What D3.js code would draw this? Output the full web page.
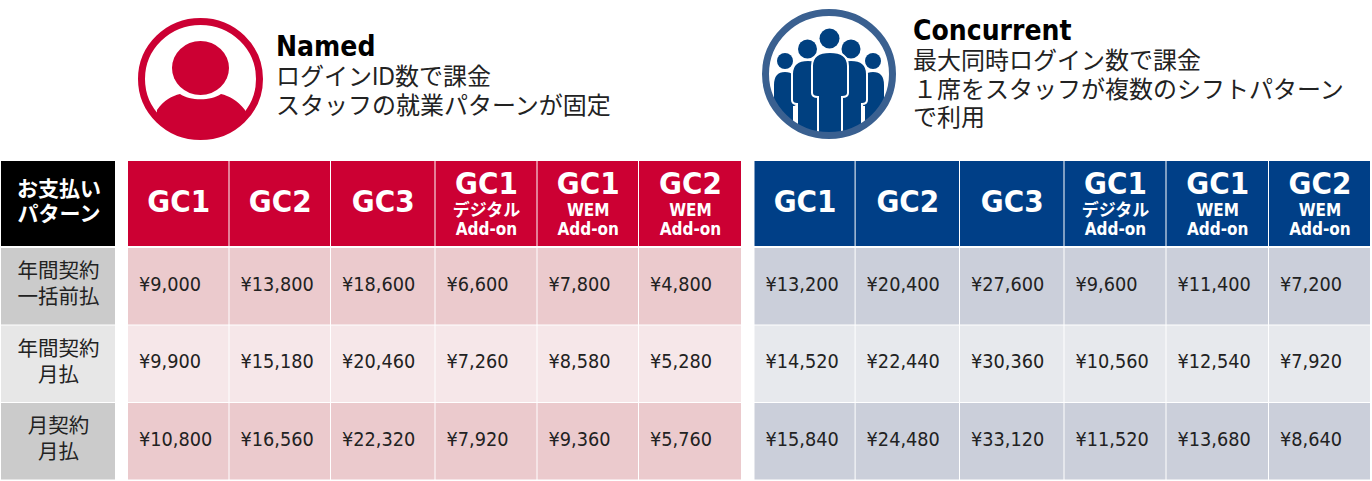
<!DOCTYPE html>
<html>
<head>
<meta charset="utf-8">
<script src="https://cdn.jsdelivr.net/npm/d3@7"></script>
<style>
body { margin: 0; background: #fff; }
text { font-family: "DejaVu Sans Condensed", "DejaVu Sans", "Noto Sans CJK JP", sans-serif; font-stretch: condensed; }
text.jp { font-family: "Noto Sans CJK JP", sans-serif; font-stretch: normal; }
</style>
</head>
<body>
<div id="chart-area"></div>
<script>
var columns = ["c0", "c1", "c2", "c3", "c4", "c5"];
var columnMain = ["GC1", "GC2", "GC3", "GC1", "GC1", "GC2"];
var columnSub = [[], [], [], ["デジタル", "Add-on"], ["WEM", "Add-on"], ["WEM", "Add-on"]];
var rowLabels = [["年間契約", "一括前払"], ["年間契約", "月払"], ["月契約", "月払"]];
var cornerLabel = ["お支払い", "パターン"];
var namedValues = [
    [9000, 13800, 18600, 6600, 7800, 4800],
    [9900, 15180, 20460, 7260, 8580, 5280],
    [10800, 16560, 22320, 7920, 9360, 5760]
];
var concurrentValues = [
    [13200, 20400, 27600, 9600, 11400, 7200],
    [14520, 22440, 30360, 10560, 12540, 7920],
    [15840, 24480, 33120, 11520, 13680, 8640]
];
var namedLines = ["ログインID数で課金", "スタッフの就業パターンが固定"];
var concurrentLines = ["最大同時ログイン数で課金", "１席をスタッフが複数のシフトパターン", "で利用"];

var svg = d3.select("#chart-area").append("svg")
    .attr("width", 1372)
    .attr("height", 481)
    .style("display", "block");

var y = d3.scaleBand().domain([0, 1, 2]).range([248, 480.5]);
var yenFormat = d3.format(",");

// stacked lines as tspans of one text
function addLines(sel, lines, x, dy) {
    sel.selectAll("tspan").data(lines).enter().append("tspan")
        .attr("x", x)
        .attr("dy", (d, i) => i == 0 ? 0 : dy)
        .text((d) => d);
}

// left column
svg.append("rect").attr("x", 1).attr("y", 161).attr("width", 114).attr("height", 85).attr("fill", "#000");
svg.append("text")
    .attr("class", "jp")
    .attr("y", 196)
    .attr("text-anchor", "middle").attr("font-size", 21).attr("font-weight", "bold")
    .attr("fill", "#fff")
    .call(addLines, cornerLabel, 59, 25);

var rowGroups = svg.selectAll(".row").data(rowLabels).enter().append("g").attr("class", "row");
rowGroups.append("rect")
    .attr("x", 1).attr("width", 114)
    .attr("y", (d, i) => y(i)).attr("height", y.bandwidth() - 1)
    .attr("fill", (d, i) => i == 1 ? "#e7e7e7" : "#cbcbcb");
rowGroups.each(function (d, i) {
    d3.select(this).append("text")
        .attr("class", "jp")
        .attr("y", y(i) + 30)
        .attr("text-anchor", "middle").attr("font-size", 20.5)
        .attr("fill", "#222")
        .call(addLines, d, 58.5, 26);
});

function drawTable(edges, head, dark, light, values) {
    var x = d3.scaleOrdinal().domain(columns).range(edges.slice(0, 6));
    var wide = d3.scaleOrdinal().domain(columns).range(d3.pairs(edges).map((p) => p[1] - p[0]));
    var g = svg.append("g");
    var heads = g.selectAll(".head").data(columns).enter().append("g").attr("class", "head");
    heads.append("rect")
        .attr("x", (d) => x(d)).attr("y", 161)
        .attr("width", (d) => wide(d) - 1).attr("height", 85)
        .attr("fill", head);
    heads.append("text")
        .attr("x", (d) => x(d) + wide(d) / 2)
        .attr("y", (d, i) => columnSub[i].length ? 194 : 212)
        .attr("text-anchor", "middle").attr("font-size", 31).attr("font-weight", "bold")
        .attr("fill", "#fff").text((d, i) => columnMain[i]);
    heads.each(function (d, i) {
        if (!columnSub[i].length) return;
        d3.select(this).append("text")
            .attr("y", 216)
            .attr("text-anchor", "middle").attr("font-size", 17).attr("font-weight", "bold")
            .attr("fill", "#fff")
            .call(addLines, columnSub[i], x(d) + wide(d) / 2, 19);
    });
    values.forEach((row, r) => {
        var cells = g.selectAll(".cell-" + r).data(row).enter().append("g").attr("class", "cell-" + r);
        cells.append("rect")
            .attr("x", (d, i) => x(columns[i])).attr("y", y(r))
            .attr("width", (d, i) => wide(columns[i]) - 1).attr("height", y.bandwidth() - 1)
            .attr("fill", r == 1 ? light : dark);
        cells.append("text")
            .attr("x", (d, i) => x(columns[i]) + 11).attr("y", y(r) + 42.5)
            .attr("font-size", 19.7).attr("fill", "#222")
            .text((d) => "¥" + yenFormat(d));
    });
}
drawTable([128, 229.5, 331, 435.5, 537.5, 639, 742], "#cc0033", "#ebcacd", "#f6e7e9", namedValues);
drawTable([754.5, 855.6, 960, 1064.5, 1166.5, 1269, 1371], "#003f87", "#cbcfda", "#e7e9ed", concurrentValues);

// titles
function drawTitle(x, titleY, title, lines, lineY) {
    svg.append("text").attr("x", x).attr("y", titleY)
        .attr("font-size", 28).attr("font-weight", "bold").attr("fill", "#000").text(title);
    svg.append("text")
        .attr("y", lineY)
        .attr("font-size", 24).attr("fill", "#222")
        .call(addLines, lines, x, 28.5);
}
drawTitle(276, 56, "Named", namedLines, 85);
drawTitle(913, 40, "Concurrent", concurrentLines, 69);

// Named icon
var named = svg.append("g");
named.append("clipPath").attr("id", "named-clip").append("ellipse")
    .attr("cx", 200.5).attr("cy", 79).attr("rx", 60).attr("ry", 58.5);
named.append("ellipse").attr("cx", 200.5).attr("cy", 79).attr("rx", 59).attr("ry", 57.5)
    .attr("fill", "#fff").attr("stroke", "#cc0033").attr("stroke-width", 7);
named.append("ellipse").attr("cx", 200.5).attr("cy", 68).attr("rx", 28.5).attr("ry", 27).attr("fill", "#cc0033");
named.append("path")
    .attr("clip-path", "url(#named-clip)")
    .attr("d", "M157,110 C164,100 172,96 180,94 C190,101 211,101 221,94 C229,96 237,100 245,110 L245,140 L157,140 Z")
    .attr("fill", "#cc0033");

// Concurrent icon
var crowd = svg.append("g");
crowd.append("clipPath").attr("id", "crowd-clip").append("ellipse")
    .attr("cx", 829).attr("cy", 74).attr("rx", 62).attr("ry", 60);
crowd.append("ellipse").attr("cx", 829).attr("cy", 74).attr("rx", 63.5).attr("ry", 61.5)
    .attr("fill", "#fff");
var blue = "#004080";
// one standing figure: rounded shoulders, arms down to armY, then narrower legs
var person = (cx, top, w, legW, armY, bottom) => {
    return "M" + (cx - w) + "," + (top + 14) +
        " C" + (cx - w) + "," + (top + 4) + " " + (cx - w * 0.6) + "," + top + " " + cx + "," + top +
        " C" + (cx + w * 0.6) + "," + top + " " + (cx + w) + "," + (top + 4) + " " + (cx + w) + "," + (top + 14) +
        " L" + (cx + w) + "," + armY + " Q" + (cx + w) + "," + (armY + 4) + " " + (cx + legW) + "," + (armY + 4) +
        " L" + (cx + legW) + "," + bottom + " L" + (cx - legW) + "," + bottom +
        " L" + (cx - legW) + "," + (armY + 4) + " Q" + (cx - w) + "," + (armY + 4) + " " + (cx - w) + "," + armY + " Z";
};
var figures = crowd.append("g").attr("clip-path", "url(#crowd-clip)");
[[785, 71, 12, 9, 103, 140, 785, 61, 8], [873, 71, 12, 9, 103, 140, 873, 61, 8],
 [808, 60, 16, 11, 100, 140, 807.5, 49, 9.5], [851, 60, 16, 11, 100, 140, 851, 49, 9.5],
 [830, 52, 18, 12, 93, 140, 829.5, 38.5, 10]]
    .forEach((p) => {
        figures.append("path").attr("d", person(p[0], p[1], p[2], p[3], p[4], p[5]))
            .attr("fill", blue).attr("stroke", "#fff").attr("stroke-width", 2);
        figures.append("ellipse").attr("cx", p[6]).attr("cy", p[7]).attr("rx", p[8]).attr("ry", p[8])
            .attr("fill", blue);
    });
crowd.append("ellipse").attr("cx", 829).attr("cy", 74).attr("rx", 63.5).attr("ry", 61.5)
    .attr("fill", "none").attr("stroke", "#3a6090").attr("stroke-width", 7);
</script>
</body>
</html>
